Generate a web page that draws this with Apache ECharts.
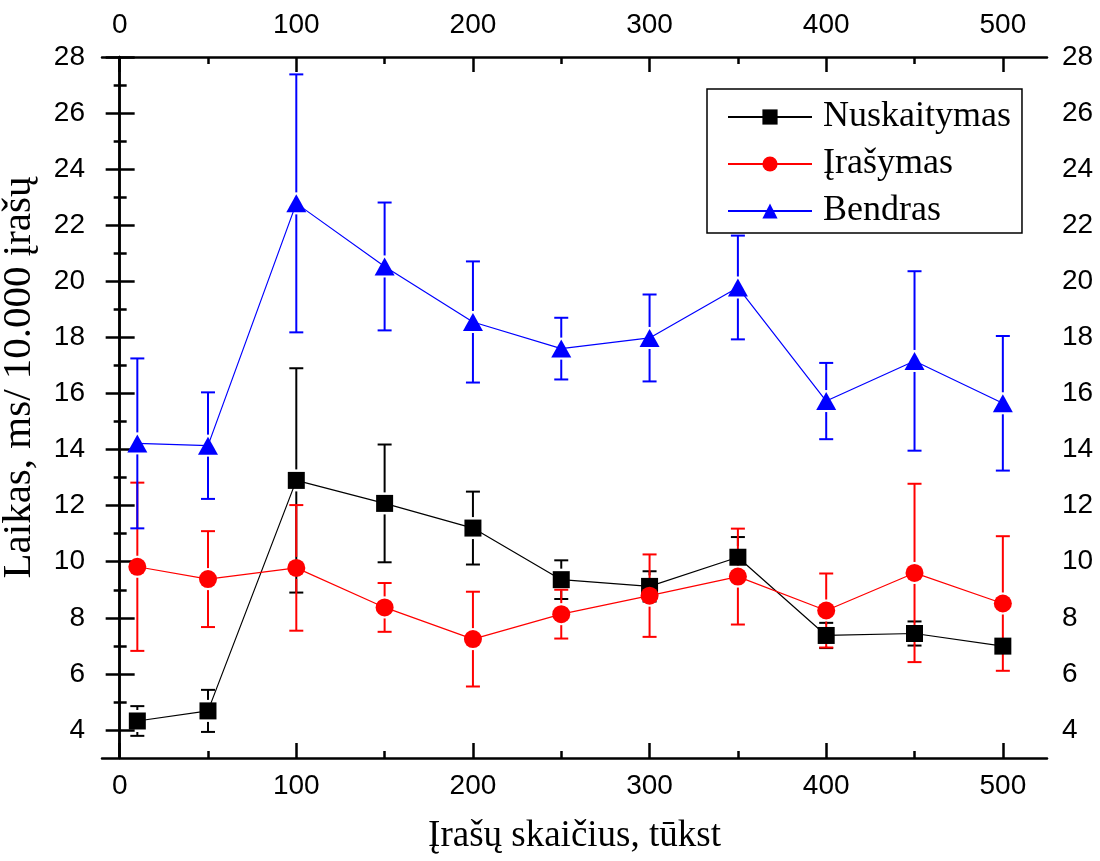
<!DOCTYPE html>
<html>
<head>
<meta charset="utf-8">
<script src="https://cdn.jsdelivr.net/npm/echarts@6/dist/echarts.min.js"></script>
<style>
  html, body { margin: 0; padding: 0; background: #fff; }
  #chart { width: 1100px; height: 861px; }
</style>
</head>
<body>
<div id="chart"></div>
<script>
// kiekis (tūkst.)
const xValues = [10, 50, 100, 150, 200, 250, 300, 350, 400, 450, 500];

const readMean = [4.32, 4.68, 12.9, 12.08, 11.2, 9.36, 9.12, 10.16, 7.37, 7.44, 6.99];
const readErr = [0.53, 0.75, 4.0, 2.1, 1.3, 0.69, 0.54, 0.72, 0.45, 0.43, 0.22];

const writeMean = [9.82, 9.38, 9.78, 8.37, 7.24, 8.13, 8.79, 9.47, 8.26, 9.6, 8.51];
const writeErr = [3.0, 1.71, 2.24, 0.87, 1.69, 0.87, 1.47, 1.71, 1.32, 3.18, 2.4];

const totalMean = [14.22, 14.14, 22.78, 20.53, 18.55, 17.6, 17.98, 19.78, 15.73, 17.16, 15.65];
const totalErr = [3.03, 1.9, 4.6, 2.28, 2.16, 1.1, 1.55, 1.85, 1.36, 3.2, 2.4];

const xMajor = [0, 100, 200, 300, 400, 500];
const xMinor = [50, 150, 250, 350, 450];
const yMajor = [4, 6, 8, 10, 12, 14, 16, 18, 20, 22, 24, 26, 28];
const yMinor = [5, 7, 9, 11, 13, 15, 17, 19, 21, 23, 25, 27];

const sansFont = 'Liberation Sans, Arial, sans-serif';
const serifFont = 'Liberation Serif, Times New Roman, serif';

const chart = echarts.init(document.getElementById('chart'));

function xAxisDef(position, ticks, len, showLine, showLabel, margin) {
    return {
        type: 'value',
        position: position,
        min: -10,
        max: 525,
        axisLine: { show: showLine, lineStyle: { color: '#000', width: 2.5 } },
        axisTick: { show: true, inside: true, length: len, customValues: ticks, lineStyle: { color: '#000', width: 2.5 } },
        axisLabel: { show: showLabel, customValues: ticks, color: '#000', fontSize: 28, fontFamily: sansFont, margin: margin },
        splitLine: { show: false }
    };
}

function yAxisDef(position, ticks, len, showLine, showLabel, margin) {
    return {
        type: 'value',
        position: position,
        min: 3,
        max: 28,
        axisLine: { show: showLine, lineStyle: { color: '#000', width: 2.5 } },
        axisTick: { show: true, inside: true, length: len, customValues: ticks, lineStyle: { color: '#000', width: 2.5 } },
        axisLabel: { show: showLabel, customValues: ticks, color: '#000', fontSize: 28, fontFamily: sansFont, margin: margin },
        splitLine: { show: false }
    };
}

const xAxes = [
    xAxisDef('bottom', xMajor, 15, true, true, 14),
    xAxisDef('bottom', xMinor, 7, false, false, 14),
    xAxisDef('top', xMajor, 15, true, true, 18),
    xAxisDef('top', xMinor, 7, false, false, 18)
];
xAxes[0].name = 'Įrašų skaičius, tūkst';
xAxes[0].nameLocation = 'middle';
xAxes[0].nameGap = 60;
xAxes[0].nameTextStyle = { fontFamily: serifFont, fontSize: 37, color: '#000' };

const yAxes = [
    yAxisDef('left', yMajor, 15, true, true, 17),
    yAxisDef('left', yMinor, 7, false, false, 17),
    yAxisDef('right', yMajor, 14, true, true, 15),
    yAxisDef('right', yMinor, 6, false, false, 15)
];
yAxes[0].name = 'Laikas, ms/ 10.000 įrašų';
yAxes[0].nameLocation = 'middle';
yAxes[0].nameGap = 62;
yAxes[0].nameTextStyle = { fontFamily: serifFont, fontSize: 41, color: '#000', padding: [0, 0, 0, 60] };

// klaidų stulpeliai (error bars)
function errorBars(name, color, mean, err) {
    return {
        name: name,
        type: 'custom',
        z: 2,
        silent: true,
        data: xValues.map((x, i) => [x, mean[i], err[i]]),
        renderItem: function (params, api) {
            const x = api.value(0);
            const y = api.value(1);
            const e = api.value(2);
            const c = api.coord([x, y]);
            const hi = api.coord([x, y + e]);
            const lo = api.coord([x, y - e]);
            const gap = 11;
            const half = 7;
            const style = { stroke: color, lineWidth: 2 };
            const children = [
                { type: 'line', shape: { x1: hi[0] - half, y1: hi[1], x2: hi[0] + half, y2: hi[1] }, style: style },
                { type: 'line', shape: { x1: lo[0] - half, y1: lo[1], x2: lo[0] + half, y2: lo[1] }, style: style }
            ];
            if (c[1] - hi[1] > gap) {
                children.push({ type: 'line', shape: { x1: c[0], y1: c[1] - gap, x2: c[0], y2: hi[1] }, style: style });
            }
            if (lo[1] - c[1] > gap) {
                children.push({ type: 'line', shape: { x1: c[0], y1: c[1] + gap, x2: c[0], y2: lo[1] }, style: style });
            }
            return { type: 'group', children: children };
        }
    };
}

function lineSeries(name, color, symbol, size, mean) {
    return {
        name: name,
        type: 'line',
        z: 3,
        data: xValues.map((x, i) => [x, mean[i]]),
        symbol: symbol,
        symbolSize: size,
        showAllSymbol: true,
        lineStyle: { color: color, width: 1.2 },
        itemStyle: { color: color, borderWidth: 0 },
        emphasis: { disabled: true }
    };
}

chart.setOption({
    backgroundColor: '#fff',
    animation: false,
    grid: { left: 102, right: 53, top: 57, bottom: 103, outerBoundsMode: 'none', containLabel: false },
    legend: {
        data: ['Nuskaitymas', 'Įrašymas', 'Bendras'],
        orient: 'vertical',
        left: 707,
        top: 89,
        padding: [8, 11, 2, 20],
        itemWidth: 84,
        itemHeight: 19,
        itemGap: 7,
        borderColor: '#000',
        borderWidth: 1.5,
        backgroundColor: '#fff',
        textStyle: { fontFamily: serifFont, fontSize: 36, color: '#000', lineHeight: 40, padding: [0, 0, 0, 6] }
    },
    xAxis: xAxes,
    yAxis: yAxes,
    series: [
        errorBars('err-read', '#000', readMean, readErr),
        errorBars('err-write', '#ff0000', writeMean, writeErr),
        errorBars('err-total', '#0000ff', totalMean, totalErr),
        lineSeries('Nuskaitymas', '#000', 'rect', 17, readMean),
        lineSeries('Įrašymas', '#ff0000', 'circle', 18, writeMean),
        lineSeries('Bendras', '#0000ff', 'triangle', [20, 18], totalMean)
    ]
});
</script>
</body>
</html>
